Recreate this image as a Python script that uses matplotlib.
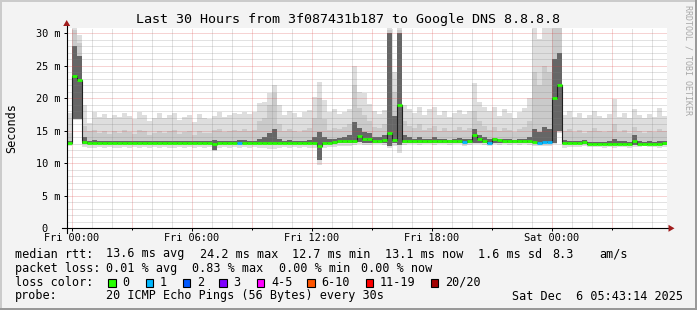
import numpy as np
import matplotlib
matplotlib.use("Agg")
import matplotlib.pyplot as plt
from matplotlib.patches import Rectangle, Polygon
from matplotlib.lines import Line2D

plt.rcParams['font.family'] = ['DejaVu Sans Mono']

# ---------------- data (15-minute steps, hours relative to Fri 00:00) ----------------
t_start = -0.25
step_hours = 0.25

median_ms = [
    13.1, 23.4, 22.8, 13.3, 13.1, 13.1, 13.1, 13.1, 13.1, 13.1, 13.1, 13.1,
    13.1, 13.1, 13.1, 13.1, 13.1, 13.1, 13.1, 13.1, 13.1, 13.1, 13.1, 13.1,
    13.1, 13.1, 13.1, 13.1, 13.1, 12.9, 13.1, 13.1, 13.1, 13.1, 13.2, 13.1,
    13.1, 13.1, 13.1, 13.1, 13.2, 13.1, 13.1, 13.1, 13.1, 13.1, 13.1, 13.2,
    13.2, 13.2, 12.7, 13.2, 13.2, 13.3, 13.4, 13.4, 13.4, 13.5, 14.2, 13.7,
    13.7, 13.5, 13.5, 13.6, 14.7, 13.6, 19.0, 13.4, 13.4, 13.4, 13.4, 13.4,
    13.4, 13.4, 13.4, 13.5, 13.4, 13.4, 13.5, 13.3, 13.4, 14.3, 13.8, 13.5,
    13.2, 13.7, 13.6, 13.5, 13.5, 13.5, 13.4, 13.5, 13.4, 13.3, 13.2, 13.3,
    13.3, 20.0, 22.0, 13.1, 13.1, 13.1, 13.1, 13.3, 13.0, 13.0, 13.0, 13.0,
    13.0, 13.0, 13.0, 13.0, 13.0, 13.4, 13.0, 13.0, 13.0, 13.0, 13.0, 13.1,
]

smoke_max = [
    17.7, 31.0, 29.8, 18.9, 16.2, 17.9, 17.2, 17.6, 16.9, 17.5, 17.1, 17.8,
    17.3, 16.8, 17.9, 17.4, 16.5, 17.0, 17.7, 16.9, 17.4, 17.8, 16.7, 17.2,
    17.5, 16.4, 17.6, 17.0, 16.8, 17.3, 17.9, 17.1, 17.4, 17.7, 17.6, 17.9,
    17.6, 17.9, 19.3, 19.5, 20.8, 22.0, 18.9, 17.4, 18.0, 17.7, 17.2, 17.9,
    18.2, 20.2, 22.5, 19.7, 17.9, 18.3, 17.6, 17.9, 18.4, 24.9, 21.0, 20.8,
    19.2, 18.0, 17.6, 18.2, 31.0, 24.0, 31.0, 19.0, 18.4, 17.8, 18.6, 17.5,
    18.3, 18.6, 17.4, 18.0, 17.2, 17.8, 18.2, 17.6, 18.1, 22.3, 19.5, 18.6,
    18.0, 18.6, 17.3, 18.4, 17.7, 16.9, 17.9, 18.5, 20.0, 31.0, 29.2, 31.0,
    31.0, 31.0, 31.0, 17.4, 18.0, 17.2, 17.8, 16.9, 17.5, 18.1, 17.3, 17.0,
    17.6, 19.9, 17.2, 17.8, 17.0, 18.3, 17.4, 16.9, 17.6, 17.1, 18.5, 17.3,
]

smoke_min = [
    12.6, 16.7, 16.7, 12.5, 12.3, 12.4, 12.5, 12.4, 12.5, 12.3, 12.4, 12.5,
    12.4, 12.5, 12.3, 12.5, 12.4, 12.5, 12.3, 12.5, 12.4, 12.4, 12.5, 12.3,
    12.5, 12.4, 12.5, 12.3, 12.5, 11.9, 12.4, 12.5, 12.4, 12.5, 12.4, 12.5,
    12.4, 12.5, 12.4, 12.3, 12.2, 12.2, 12.4, 12.5, 12.4, 12.5, 12.4, 12.5,
    12.4, 12.3, 9.7, 12.4, 12.5, 12.5, 12.6, 12.7, 12.7, 12.8, 12.9, 12.8,
    12.8, 12.9, 12.9, 12.8, 12.3, 12.7, 11.6, 12.8, 12.9, 12.9, 12.8, 12.9,
    12.9, 12.8, 12.9, 12.9, 12.8, 12.9, 12.9, 12.7, 12.8, 12.9, 12.9, 12.8,
    12.7, 12.9, 12.8, 12.9, 12.8, 12.9, 12.8, 12.9, 12.8, 12.7, 12.6, 12.7,
    12.7, 13.0, 14.7, 12.4, 12.5, 12.5, 12.5, 12.6, 12.5, 12.5, 12.5, 12.4,
    12.5, 12.4, 12.5, 12.5, 12.4, 12.5, 12.5, 12.6, 12.5, 12.5, 12.4, 12.5,
]

smoke_inner_low = [
    12.9, 16.8, 16.8, 12.9, 12.9, 12.9, 12.9, 12.9, 12.9, 12.9, 12.9, 12.9,
    12.9, 12.9, 12.9, 12.9, 12.9, 12.9, 12.9, 12.9, 12.9, 12.9, 12.9, 12.9,
    12.9, 12.9, 12.9, 12.9, 12.9, 12.0, 12.9, 12.9, 12.9, 12.9, 12.9, 12.9,
    12.9, 12.9, 12.9, 12.9, 12.9, 12.9, 12.9, 12.9, 12.9, 12.9, 12.9, 12.9,
    12.9, 12.9, 10.5, 12.9, 12.9, 13.0, 13.1, 13.1, 13.1, 13.2, 13.3, 13.2,
    13.2, 13.2, 13.2, 13.2, 12.6, 13.2, 12.8, 13.2, 13.2, 13.2, 13.2, 13.2,
    13.2, 13.2, 13.2, 13.2, 13.2, 13.2, 13.2, 13.1, 13.2, 13.2, 13.2, 13.2,
    13.0, 13.2, 13.2, 13.2, 13.2, 13.2, 13.2, 13.2, 13.2, 13.1, 13.0, 13.1,
    13.1, 13.2, 15.0, 12.9, 12.9, 12.9, 12.9, 12.9, 12.8, 12.8, 12.8, 12.8,
    12.8, 12.8, 12.8, 12.8, 12.8, 12.8, 12.8, 12.8, 12.8, 12.8, 12.8, 12.8,
]

smoke_mid_high = [
    14.6, 30.5, 28.5, 15.8, 14.9, 15.2, 14.6, 15.0, 14.5, 14.9, 14.6, 15.1,
    14.8, 14.5, 15.2, 14.9, 14.4, 14.7, 15.0, 14.6, 14.9, 15.1, 14.5, 14.8,
    14.9, 14.4, 15.0, 14.7, 14.6, 15.2, 15.3, 14.8, 14.9, 15.1, 15.0, 15.3,
    15.0, 15.2, 16.5, 17.0, 19.0, 20.8, 16.0, 15.0, 15.3, 15.0, 14.8, 15.2,
    15.4, 17.0, 20.0, 16.8, 15.2, 15.5, 15.3, 15.6, 16.0, 22.0, 18.5, 17.5,
    16.5, 15.6, 15.4, 16.0, 30.5, 21.0, 30.5, 16.5, 15.8, 15.4, 16.0, 15.2,
    15.5, 15.8, 15.0, 15.4, 14.9, 15.2, 15.6, 15.1, 15.5, 18.0, 16.5, 15.7,
    15.2, 15.6, 15.0, 15.5, 15.2, 14.8, 15.3, 15.6, 16.5, 24.0, 22.0, 25.0,
    24.0, 31.0, 31.0, 15.0, 15.3, 14.8, 15.2, 14.7, 15.0, 15.4, 14.9, 14.8,
    15.0, 16.0, 14.8, 15.1, 14.7, 15.6, 15.0, 14.7, 15.0, 14.8, 15.3, 14.9,
]

smoke_dark_high = [
    13.4, 28.0, 26.5, 14.0, 13.5, 13.6, 13.4, 13.5, 13.4, 13.5, 13.4, 13.5,
    13.5, 13.4, 13.5, 13.5, 13.4, 13.4, 13.5, 13.4, 13.5, 13.5, 13.4, 13.5,
    13.5, 13.4, 13.5, 13.4, 13.4, 13.6, 13.5, 13.5, 13.5, 13.5, 13.6, 13.6,
    13.5, 13.5, 13.8, 14.0, 14.6, 15.3, 13.8, 13.5, 13.6, 13.5, 13.4, 13.5,
    13.6, 14.0, 14.8, 14.1, 13.7, 13.8, 13.9, 14.0, 14.3, 16.3, 15.4, 14.8,
    14.6, 14.1, 14.0, 14.4, 30.0, 17.3, 30.0, 14.3, 14.0, 13.8, 14.1, 13.8,
    13.8, 14.0, 13.7, 13.8, 13.6, 13.8, 13.9, 13.7, 13.8, 15.3, 14.4, 14.0,
    13.7, 13.9, 13.7, 13.8, 13.7, 13.6, 13.7, 13.8, 14.0, 15.3, 14.8, 15.6,
    15.3, 26.0, 27.0, 13.6, 13.4, 13.4, 13.4, 13.6, 13.3, 13.3, 13.3, 13.3,
    13.4, 13.8, 13.4, 13.5, 13.3, 14.3, 13.4, 13.3, 13.4, 13.3, 13.5, 13.4,
]

# lost pings per step (out of 20)
lost_pings = [
    0, 0, 0, 0, 0, 0, 0, 0, 0, 0, 0, 0,
    0, 0, 0, 0, 0, 0, 0, 0, 0, 0, 0, 0,
    0, 0, 0, 0, 0, 0, 0, 0, 0, 0, 1, 0,
    0, 0, 0, 0, 0, 0, 0, 0, 0, 0, 0, 0,
    0, 0, 0, 0, 0, 0, 0, 0, 0, 0, 0, 0,
    0, 0, 0, 0, 0, 0, 0, 0, 0, 0, 0, 0,
    0, 0, 0, 0, 0, 0, 0, 1, 0, 0, 0, 0,
    1, 0, 0, 0, 0, 0, 0, 0, 0, 0, 1, 1,
    1, 0, 0, 0, 0, 0, 0, 0, 0, 0, 0, 0,
    0, 0, 0, 0, 0, 0, 0, 0, 0, 0, 0, 0,
]

x_tick_hours = [0, 6, 12, 18, 24]
x_tick_labels = ["Fri 00:00", "Fri 06:00", "Fri 12:00", "Fri 18:00", "Sat 00:00"]
y_tick_values = [0, 5, 10, 15, 20, 25, 30]
y_tick_labels = ["0  ", "5 m", "10 m", "15 m", "20 m", "25 m", "30 m"]

loss_labels = ["0", "1", "2", "3", "4-5", "6-10", "11-19", "20/20"]
loss_colors = ["#26ff00", "#00b8ff", "#0059ff", "#7e00ff", "#ff00ff", "#ff5500", "#ff0000", "#a10000"]

title = "Last 30 Hours from 3f087431b187 to Google DNS 8.8.8.8"
stats_rtt = ["median rtt:", "13.6 ms avg", "24.2 ms max", "12.7 ms min", "13.1 ms now",
             "1.6 ms sd", "8.3", "am/s"]
stats_loss = ["packet loss:", "0.01 % avg", "0.83 % max", "0.00 % min", "0.00 % now"]
probe_line = ["probe:", "20 ICMP Echo Pings (56 Bytes) every 30s", "Sat Dec  6 05:43:14 2025"]

# ---------------- figure ----------------
W, H, DPI = 697, 310, 100
fig = plt.figure(figsize=(W / DPI, H / DPI), dpi=DPI, facecolor='#f3f3f3')


def fx(px):
    return px / W


def fy(py):
    return 1 - py / H


# bevel border
for (x0, y0, w, h, c) in [(0, 0, W, 2, '#cbcbcb'), (0, 0, 2, H, '#cbcbcb'),
                          (0, H - 2, W, 2, '#999999'), (W - 2, 0, 2, H, '#999999')]:
    fig.add_artist(Rectangle((fx(x0), fy(y0 + h)), w / W, h / H, transform=fig.transFigure,
                             facecolor=c, edgecolor='none', zorder=0))

PX_TOP, PX_BOT, PX_LEFT, PX_RIGHT = 28.3, 228.3, 66.7, 666.7
ax = fig.add_axes([fx(PX_LEFT), fy(PX_BOT), (PX_RIGHT - PX_LEFT) / W, (PX_BOT - PX_TOP) / H])
ax.set_facecolor('white')
n_steps = len(median_ms)
edges = t_start + step_hours * np.arange(n_steps + 1)
ax.set_xlim(edges[0], edges[-1])
ax.set_ylim(0, 200 / 6.5)
for s in ax.spines.values():
    s.set_visible(False)

# smoke
ax.stairs(smoke_max, edges, baseline=smoke_min, fill=True, color='#dedede', lw=0, zorder=1)
ax.stairs(smoke_mid_high, edges, baseline=smoke_inner_low, fill=True, color='#cacaca', lw=0, zorder=2)
ax.stairs(smoke_dark_high, edges, baseline=smoke_inner_low, fill=True, color='#666666', lw=0, zorder=3)

# grid
px = 0.72
for h in range(0, 30):
    major = (h % 3 == 0)
    ax.axvline(h, color=(0.85, 0.25, 0.25, 0.45) if major else (0.5, 0.5, 0.5, 0.45),
               lw=px, ls=(0, (1, 1)), zorder=4)
for v in range(1, 31):
    major = (v % 5 == 0)
    ax.axhline(v, color=(0.85, 0.25, 0.25, 0.45) if major else (0.5, 0.5, 0.5, 0.45),
               lw=px, ls=(0, (1, 1)), zorder=4)

# median: thin dark line + loss-coloured band
ax.stairs(median_ms, edges, baseline=None, color='#202020', lw=0.8, zorder=5)


def loss_index(lost):
    bounds = [0, 1, 2, 3, 5, 10, 19, 20]
    for k, b in enumerate(bounds):
        if lost <= b:
            return k
    return len(bounds) - 1


med_colors = [loss_colors[loss_index(l)] for l in lost_pings]
ax.hlines(median_ms, edges[:-1], edges[1:], colors=med_colors, lw=2.0, zorder=6,
          capstyle='butt')

# ticks
ax.set_xticks(x_tick_hours)
ax.set_xticklabels(x_tick_labels)
ax.set_xticks(list(range(0, 30, 3)), minor=True)
ax.set_yticks(y_tick_values)
ax.set_yticklabels(y_tick_labels)
ax.tick_params(axis='x', which='major', length=2.2, width=0.72, pad=1.2, labelsize=7.4)
ax.tick_params(axis='x', which='minor', length=1.5, width=0.72)
ax.tick_params(axis='y', which='major', length=2.0, width=0.72, pad=2.6, labelsize=7.4)

# axis lines with arrows
fig.add_artist(Line2D([fx(62), fx(669)], [fy(PX_BOT), fy(PX_BOT)], color='black', lw=0.8, zorder=7))
fig.add_artist(Line2D([fx(PX_LEFT), fx(PX_LEFT)], [fy(233), fy(24)], color='black', lw=0.8, zorder=7))
arrow_c = '#a01c1c'
fig.add_artist(Polygon([(fx(668.5), fy(224.8)), (fx(668.5), fy(231.8)), (fx(674.5), fy(228.3))],
                       closed=True, transform=fig.transFigure, facecolor=arrow_c, edgecolor='none', zorder=8))
fig.add_artist(Polygon([(fx(63.2), fy(26)), (fx(70.2), fy(26)), (fx(66.7), fy(20))],
                       closed=True, transform=fig.transFigure, facecolor=arrow_c, edgecolor='none', zorder=8))

# texts
fig.text(fx(348.5), fy(19), title, ha='center', va='center', fontsize=9.6)
fig.text(fx(11.5), fy(128), "Seconds", rotation=90, ha='center', va='center', fontsize=8.5)
fig.text(fx(688), fy(60), "RRDTOOL / TOBI OETIKER", rotation=270, ha='center', va='center',
         fontsize=6.0, color='#a8a8a8')

LEG = 8.5
row_y = [254, 268.3, 282.3, 296]
for txt, xp in zip(stats_rtt, [16, 107.3, 200.7, 293.3, 385.7, 479.3, 552.7, 600]):
    fig.text(fx(xp - 0.8), fy(row_y[0]), txt, ha='left', va='center', fontsize=LEG)
for txt, xp in zip(stats_loss, [16, 107.3, 192.7, 280, 361.7]):
    fig.text(fx(xp - 0.8), fy(row_y[1]), txt, ha='left', va='center', fontsize=LEG)
fig.text(fx(16 - 0.8), fy(row_y[2]), "loss color:", ha='left', va='center', fontsize=LEG)
box_x = [108.3, 145.7, 182.7, 219.3, 256.7, 307.3, 365.7, 430.7]
for lbl, col, bx in zip(loss_labels, loss_colors, box_x):
    fig.add_artist(Rectangle((fx(bx), fy(286.6)), 7.6 / W, 8.0 / H, transform=fig.transFigure,
                             facecolor=col, edgecolor='black', lw=0.8, zorder=5))
    fig.text(fx(bx + 15 - 0.8), fy(row_y[2]), lbl, ha='left', va='center', fontsize=LEG)
for txt, xp in zip(probe_line, [16, 107.3, 513.3]):
    fig.text(fx(xp - 0.8), fy(row_y[3]), txt, ha='left', va='center', fontsize=LEG)

fig.savefig("out.png", dpi=DPI, facecolor=fig.get_facecolor())
